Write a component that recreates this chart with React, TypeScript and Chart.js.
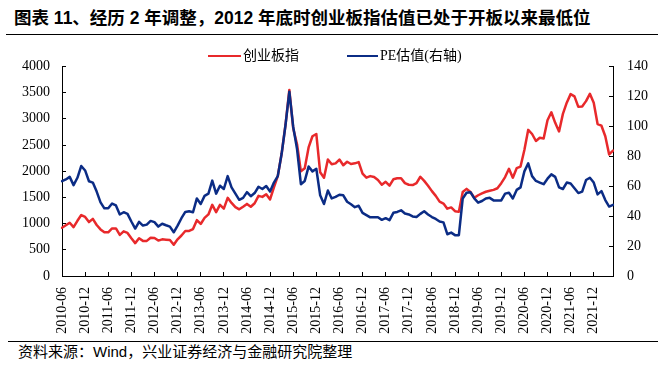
import React, { useEffect, useRef } from "react";
import { Chart, registerables } from "chart.js";

Chart.register(...registerables);

// Monthly categories 2010-06 … 2022-05
const startYear = 2010;
const startMonth = 6;
const monthCount = 144;
const months: string[] = [];
for (let k = 0; k < monthCount; k++) {
  const m = startMonth - 1 + k;
  const y = startYear + Math.floor(m / 12);
  const mm = (m % 12) + 1;
  months.push(`${y}-${mm < 10 ? "0" + mm : mm}`);
}

// 创业板指 (left axis)
const chinext: number[] = [
  920, 968, 1017, 932, 1054, 1163, 1127, 1029, 1090, 974, 889, 834,
  834, 907, 907, 786, 853, 822, 719, 627, 719, 670, 670, 731,
  725, 676, 700, 694, 688, 597, 700, 773, 859, 859, 895, 1066,
  993, 1108, 1175, 1358, 1218, 1358, 1285, 1492, 1395, 1315, 1273, 1322,
  1376, 1322, 1389, 1529, 1510, 1559, 1462, 1693, 1906, 2332, 2881, 3550,
  2820, 2515, 1998, 2058, 2454, 2667, 2710, 1979, 1876, 2223, 2132, 2150,
  2223, 2113, 2180, 2138, 2150, 2174, 1955, 1876, 1906, 1888, 1833, 1742,
  1797, 1723, 1845, 1864, 1864, 1772, 1742, 1736, 1772, 1894, 1815, 1723,
  1620, 1529, 1419, 1382, 1285, 1309, 1236, 1224, 1602, 1663, 1602, 1492,
  1541, 1577, 1608, 1626, 1644, 1675, 1772, 1888, 2046, 1876, 2058, 2089,
  2406, 2789, 2710, 2576, 2637, 2625, 2972, 3124, 2923, 2759, 3094, 3307,
  3471, 3429, 3228, 3234, 3337, 3477, 3307, 2899, 2868, 2667, 2320, 2393,
];

// PE估值 (right axis)
const peValue: number[] = [
  63.3, 64.5, 66.2, 60.7, 65.6, 73.5, 70.5, 63.3, 62.4, 56.4, 49.2, 45.2,
  45.2, 48.4, 47.1, 41.1, 42.6, 41.5, 36.4, 31.7, 36.2, 33.7, 34.3, 36.8,
  36.0, 33.0, 34.9, 33.9, 33.0, 29.2, 33.7, 38.6, 42.8, 43.2, 42.6, 51.8,
  48.1, 53.5, 55.0, 63.7, 55.0, 60.3, 58.1, 66.7, 59.2, 55.0, 50.9, 52.2,
  56.0, 53.3, 55.4, 59.6, 58.1, 60.1, 56.4, 62.4, 66.7, 81.6, 100.7, 123.1,
  99.7, 84.8, 61.3, 63.5, 73.1, 69.9, 71.6, 53.9, 48.1, 57.1, 51.8, 52.8,
  54.3, 53.9, 49.6, 47.9, 46.0, 46.9, 42.2, 40.7, 39.2, 39.2, 39.2, 37.5,
  38.6, 37.3, 42.2, 42.8, 43.9, 41.7, 41.1, 39.8, 39.4, 41.5, 43.2, 41.1,
  39.4, 38.1, 36.4, 35.8, 27.9, 29.0, 27.3, 27.3, 51.8, 55.6, 56.0, 51.8,
  49.0, 50.1, 51.8, 52.2, 50.5, 50.5, 50.5, 55.0, 55.6, 51.8, 57.5, 59.2,
  69.9, 75.2, 66.7, 63.5, 62.4, 61.3, 65.0, 67.9, 66.2, 59.2, 58.1, 62.4,
  61.8, 58.6, 55.4, 56.4, 64.1, 65.6, 62.4, 54.5, 56.7, 50.7, 46.4, 47.5,
];

const seriesNames = ["创业板指", "PE估值(右轴)"];
const titleText = "图表 11、经历 2 年调整，2012 年底时创业板指估值已处于开板以来最低位";
const sourceText = "资料来源：Wind，兴业证券经济与金融研究院整理";

const RED = "#E8292B";
const BLUE = "#0B2C85";
const serif = '"Liberation Serif", "Times New Roman", "Noto Sans CJK SC", serif';
const tickFont = { family: serif, size: 14 };

export default function App() {
  const ref = useRef<HTMLCanvasElement>(null);

  useEffect(() => {
    if (!ref.current) return;
    const axisGrid = {
      display: true,
      drawOnChartArea: false,
      drawTicks: true,
      tickLength: -4,
      color: "#000",
      tickColor: "#000",
      lineWidth: 1,
    };
    const plain = (v: any) => String(v);
    const chart = new Chart(ref.current, {
      type: "line",
      data: {
        labels: months,
        datasets: [
          {
            label: seriesNames[0],
            data: chinext,
            borderColor: RED,
            backgroundColor: RED,
            borderWidth: 2.5,
            pointRadius: 0,
            tension: 0,
            yAxisID: "y",
            order: 2,
          },
          {
            label: seriesNames[1],
            data: peValue,
            borderColor: BLUE,
            backgroundColor: BLUE,
            borderWidth: 2.5,
            pointRadius: 0,
            tension: 0,
            yAxisID: "y1",
            order: 1,
          },
        ],
      },
      options: {
        responsive: false,
        animation: false,
        devicePixelRatio: 1,
        layout: { padding: { top: 17, left: 0, right: 0, bottom: 0 } },
        plugins: { legend: { display: false }, tooltip: { enabled: false } },
        elements: { line: { borderJoinStyle: "round", borderCapStyle: "round" } },
        scales: {
          x: {
            type: "category",
            offset: false,
            grid: axisGrid,
            border: { display: true, color: "#000", width: 1 },
            ticks: {
              autoSkip: false,
              minRotation: 90,
              maxRotation: 90,
              padding: 15,
              color: "#000",
              font: tickFont,
            },
            afterBuildTicks: (scale: any) => {
              scale.ticks = scale.ticks.filter((t: any) => {
                const lab = months[t.value];
                return lab.endsWith("-06") || lab.endsWith("-12");
              });
            },
            afterFit: (scale: any) => {
              scale.height = 64;
            },
          },
          y: {
            position: "left",
            min: 0,
            max: 4000,
            grid: axisGrid,
            border: { display: true, color: "#000", width: 1 },
            ticks: { stepSize: 500, padding: 16, color: "#000", font: tickFont, callback: plain },
            afterFit: (scale: any) => {
              scale.width = 62;
            },
          },
          y1: {
            position: "right",
            min: 0,
            max: 140,
            grid: axisGrid,
            border: { display: true, color: "#000", width: 1 },
            ticks: { stepSize: 20, padding: 18, color: "#000", font: tickFont, callback: plain },
            afterFit: (scale: any) => {
              scale.width = 55;
            },
          },
        },
      },
    } as any);
    return () => chart.destroy();
  }, []);

  return (
    <div
      style={{
        position: "fixed",
        left: 0,
        top: 0,
        width: 668,
        height: 368,
        background: "#fff",
        overflow: "hidden",
      }}
    >
      <div
        style={{
          position: "absolute",
          left: 14,
          top: 8,
          lineHeight: "21px",
          fontSize: 17.5,
          fontWeight: "bold",
          fontFamily: '"Liberation Sans", Arial, "Noto Sans CJK SC", sans-serif',
          whiteSpace: "nowrap",
          color: "#000",
        }}
      >
        {titleText}
      </div>
      <div style={{ position: "absolute", left: 6, top: 34, width: 652, height: 1, background: "#000" }} />

      <canvas
        ref={ref}
        width={668}
        height={300}
        style={{ position: "absolute", left: 0, top: 40, width: 668, height: 300, display: "block" }}
      />

      {/* legend */}
      <div style={{ position: "absolute", left: 208, top: 55, width: 33, height: 2, background: RED }} />
      <div
        style={{
          position: "absolute",
          left: 243,
          top: 47,
          lineHeight: "18px",
          fontSize: 14,
          fontFamily: serif,
          whiteSpace: "nowrap",
          color: "#000",
        }}
      >
        {seriesNames[0]}
      </div>
      <div style={{ position: "absolute", left: 347, top: 55, width: 31, height: 2, background: BLUE }} />
      <div
        style={{
          position: "absolute",
          left: 380,
          top: 47,
          lineHeight: "18px",
          fontSize: 14,
          fontFamily: serif,
          whiteSpace: "nowrap",
          color: "#000",
        }}
      >
        {seriesNames[1]}
      </div>

      <div style={{ position: "absolute", left: 8, top: 341, width: 650, height: 1, background: "#000" }} />
      <div
        style={{
          position: "absolute",
          left: 18,
          top: 343,
          lineHeight: "18px",
          fontSize: 15,
          fontFamily: '"Liberation Sans", Arial, "Noto Sans CJK SC", sans-serif',
          whiteSpace: "nowrap",
          color: "#000",
        }}
      >
        {sourceText}
      </div>
    </div>
  );
}
